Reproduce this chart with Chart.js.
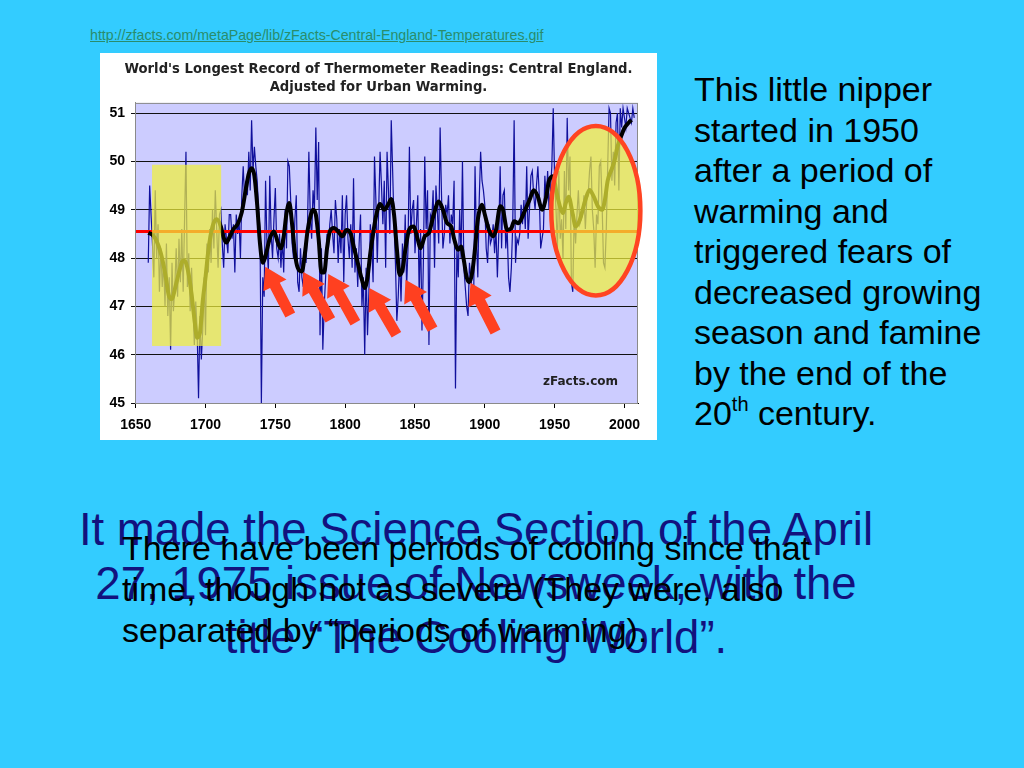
<!DOCTYPE html>
<html>
<head>
<meta charset="utf-8">
<script src="https://cdn.jsdelivr.net/npm/chart.js@4.4.1/dist/chart.umd.min.js"></script>
<style>
  html, body { margin: 0; padding: 0; }
  body { width: 1024px; height: 768px; background: #33ccff; position: relative; overflow: hidden;
         font-family: "Liberation Sans", Arial, sans-serif; }
  #link { position: absolute; left: 90px; top: 27px; font-size: 14.2px; color: #2a8c6c; text-decoration: underline; }
  #box { position: absolute; left: 100px; top: 53px; width: 557px; height: 387px; background: #fff; }
  #note { position: absolute; left: 694px; top: 69px; font-size: 34px; line-height: 40.5px; color: #000; }
  #note sup { font-size: 20px; vertical-align: 14px; line-height: 0; }
  #big { position: absolute; left: 60px; top: 503px; width: 832px; text-align: center;
         font-size: 45.5px; line-height: 54px; color: #12127e; }
  #small { position: absolute; left: 122px; top: 528px; font-size: 34px; line-height: 41px; color: #000; }
</style>
</head>
<body>
<div id="link">http://zfacts.com/metaPage/lib/zFacts-Central-England-Temperatures.gif</div>
<div id="box"><canvas id="myChart" width="557" height="387"></canvas></div>
<div id="note">This little nipper<br>started in 1950<br>after a period of<br>warming and<br>triggered fears of<br>decreased growing<br>season and famine<br>by the end of the<br>20<sup>th</sup> century.</div>
<div id="big">It made the Science Section of the April<br>27, 1975 issue of Newsweek, with the<br>title “The Cooling World”.</div>
<div id="small">There have been periods of cooling since that<br>time, though not as severe (They were, also<br>separated by “periods of warming).</div>

<script>
// annual readings (deg F), one per year starting 1659
const firstYear = 1659;
const annualTemps = [
  47.9, 49.5, 48.9, 48.3, 47.6, 49.4, 48.0, 48.7, 47.3, 48.2, 47.4,            // 1659-1669
  47.9, 47.0, 48.3, 46.8, 47.6, 46.1, 47.9, 46.9, 47.4, 48.2,                  // 1670s
  47.2, 48.4, 47.5, 48.6, 47.3, 48.8, 50.2, 47.4, 48.1, 46.9,                  // 1680s
  47.8, 47.0, 46.2, 47.1, 46.5, 45.1, 46.8, 45.9, 46.5, 47.6,                  // 1690s
  46.4, 48.3, 47.7, 48.6, 47.9, 49.0, 48.2, 49.4, 48.6, 47.8,                  // 1700s
  48.9, 49.0, 48.3, 47.8, 48.7, 48.4, 48.1, 48.9, 48.9, 48.4,                  // 1710s
  48.7, 47.7, 48.9, 48.5, 48.8, 48.0, 49.3, 49.9, 49.2, 49.6,                  // 1720s
  49.3, 50.2, 49.4, 50.85, 49.8, 50.3, 49.9, 49.6, 49.0, 48.6,                 // 1730s
  45.0, 47.6, 47.2, 49.6, 48.3, 47.7, 49.7, 48.5, 48.0, 48.8,                  // 1740s
  49.45, 48.2, 48.0, 48.5, 47.8, 48.4, 47.7, 49.0, 48.2, 50.0,                 // 1750s
  49.9, 49.2, 48.3, 48.0, 48.8, 49.3, 47.5, 47.3, 48.2, 47.6,                  // 1760s
  47.4, 48.3, 47.9, 48.6, 50.2, 48.9, 48.4, 49.4, 49.0, 50.7,                  // 1770s
  49.2, 50.4, 46.4, 48.2, 46.1, 47.0, 47.6, 48.5, 48.2, 48.7,                  // 1780s
  49.0, 48.5, 48.1, 49.2, 48.8, 47.9, 48.6, 48.1, 49.3, 47.5,                  // 1790s
  48.9, 49.3, 48.4, 48.0, 48.7, 47.8, 49.65, 47.7, 48.2, 47.4,                 // 1800s
  48.3, 48.9, 47.0, 47.6, 46.0, 47.8, 46.4, 47.3, 48.7, 48.3,                  // 1810s
  47.5, 50.1, 49.2, 47.9, 49.0, 50.2, 49.5, 48.7, 49.6, 47.8,                  // 1820s
  50.2, 49.4, 48.5, 50.85, 49.8, 48.7, 47.9, 46.7, 47.2, 48.0,                 // 1830s
  47.1, 48.3, 47.7, 48.9, 47.4, 48.2, 50.3, 48.5, 49.0, 49.2,                  // 1840s
  48.1, 48.7, 49.3, 47.2, 48.6, 46.5, 47.9, 50.1, 48.6, 49.4,                  // 1850s
  46.2, 48.9, 48.8, 49.4, 47.8, 49.5, 49.0, 48.3, 50.7, 49.3,                  // 1860s
  48.2, 48.5, 49.1, 48.9, 49.3, 48.3, 48.9, 48.7, 49.6, 45.3,                  // 1870s
  48.2, 47.6, 49.0, 48.0, 50.0, 47.8, 47.4, 47.0, 46.8, 47.9,                  // 1880s
  47.6, 47.3, 47.1, 49.9, 48.4, 47.6, 49.2, 50.2, 49.6, 49.4,                  // 1890s
  49.1, 48.2, 47.9, 48.7, 48.3, 48.4, 48.7, 48.1, 48.6, 47.6,                  // 1900s
  48.5, 49.9, 48.2, 49.3, 49.4, 48.2, 48.6, 47.6, 47.3, 47.8,                  // 1910s
  48.7, 50.85, 47.9, 48.4, 48.3, 48.5, 49.1, 48.7, 49.2, 48.6,                 // 1920s
  49.9, 48.4, 49.0, 49.7, 49.8, 49.3, 49.0, 49.5, 49.9, 49.3,                  // 1930s
  48.2, 48.4, 48.6, 49.7, 49.2, 49.8, 49.0, 49.4, 49.9, 51.1,                  // 1940s
  49.6, 49.0, 48.2, 49.8, 48.4, 48.8, 48.0, 49.8, 48.6, 50.9,                  // 1950s
  49.4, 50.1, 47.5, 47.3, 48.9, 48.3, 48.9, 49.4, 48.7, 48.8,                  // 1960s
  48.9, 49.3, 48.6, 49.2, 49.3, 49.8, 50.1, 49.0, 48.6, 47.8,                  // 1970s
  48.9, 48.7, 49.9, 50.0, 49.1, 47.9, 47.8, 48.6, 49.9, 51.1,                  // 1980s
  51.0, 49.6, 50.2, 49.5, 50.8, 51.0, 49.4, 51.1, 50.7, 51.1,                  // 1990s
  50.9, 50.7, 51.1, 51.0, 50.9, 50.8, 51.1, 50.9                               // 2000-2007
];

// smoothed trend (thick black line)
const smoothYears = [1659, 1662, 1665, 1668, 1671, 1674, 1676, 1678, 1681, 1684, 1686, 1688, 1690, 1692, 1694, 1696, 1698,
  1700, 1702, 1705, 1708, 1711, 1713, 1715, 1717, 1720, 1723, 1726, 1729, 1731, 1733, 1735, 1737, 1739,
  1741, 1743, 1746, 1749, 1752, 1754, 1756, 1758, 1760, 1762, 1764, 1766, 1769, 1771, 1773, 1775, 1777, 1779,
  1781, 1783, 1785, 1787, 1789, 1792, 1795, 1798, 1801, 1804, 1806, 1809, 1812, 1814, 1816, 1818, 1820,
  1822, 1825, 1828, 1831, 1833, 1835, 1837, 1839, 1841, 1843, 1846, 1849, 1852, 1854, 1857, 1860, 1863,
  1867, 1870, 1873, 1876, 1878, 1881, 1883, 1885, 1887, 1889, 1891, 1893, 1895, 1898, 1900, 1903, 1906,
  1908, 1911, 1913, 1916, 1919, 1921, 1924, 1926, 1929, 1932, 1935, 1938, 1941, 1944, 1946, 1949, 1951,
  1954, 1956, 1958, 1960, 1963, 1965, 1968, 1972, 1975, 1978, 1981, 1984, 1986, 1988, 1991, 1993, 1995,
  1998, 2000, 2003, 2005];
const smoothTemps = [48.52, 48.48, 48.35, 48.1, 47.7, 47.2, 47.15, 47.35, 47.7, 47.95, 47.9, 47.65, 47.25, 46.75, 46.35, 46.45, 47.1,
  47.6, 48.15, 48.65, 48.8, 48.65, 48.42, 48.32, 48.42, 48.6, 48.7, 48.95, 49.45, 49.75, 49.86, 49.7, 49.1, 48.3,
  47.9, 48.05, 48.4, 48.55, 48.3, 48.2, 48.45, 48.93, 49.14, 48.7, 48.1, 47.8, 47.72, 48.05, 48.55, 48.85, 49.0, 48.9,
  48.4, 47.7, 47.7, 48.2, 48.55, 48.62, 48.55, 48.45, 48.58, 48.5, 48.25, 47.9, 47.55, 47.38, 47.6, 48.1, 48.5,
  48.85, 49.12, 49.0, 49.12, 49.22, 48.9, 48.2, 47.65, 47.75, 48.15, 48.6, 48.65, 48.38, 48.2, 48.45, 48.52, 48.85,
  49.17, 49.0, 48.72, 48.65, 48.4, 48.17, 48.24, 47.95, 47.6, 47.5, 47.7, 48.2, 48.8, 49.1, 48.9, 48.58, 48.45,
  48.58, 49.07, 49.0, 48.58, 48.62, 48.76, 48.72, 48.8, 49.0, 49.2, 49.4, 49.27, 49.0, 49.27, 49.6, 49.69, 49.41,
  49.05, 48.93, 49.14, 49.27, 48.9, 48.65, 48.79, 49.2, 49.41, 49.27, 49.07, 49.0, 49.2, 49.6, 49.85, 50.03, 50.3,
  50.55, 50.69, 50.8, 50.86];

const meanTemp = 48.55;
const xTicks = [1650, 1700, 1750, 1800, 1850, 1900, 1950, 2000];
const yTicks = [45, 46, 47, 48, 49, 50, 51];

// highlight marks, in data units
const yellowBox = [1661.7, 1711.2, 46.18, 49.93];          // x0, x1, yLow, yHigh
const recentEllipse = [1979.5, 48.98, 31.9, 1.754];        // cx, cy, rx (years), ry (deg)
const coolArrows = [                                        // tipYear, tipTemp, tailYear, tailTemp
  [1742.8, 47.82, 1760.7, 46.82],
  [1770.0, 47.71, 1789.4, 46.72],
  [1787.9, 47.67, 1807.3, 46.66],
  [1817.3, 47.38, 1836.7, 46.41],
  [1843.2, 47.55, 1862.6, 46.53],
  [1889.8, 47.49, 1907.7, 46.47]
];

const overlays = {
  id: 'overlays',
  beforeDraw(chart) {
    const { ctx, chartArea: a } = chart;
    ctx.save();
    ctx.fillStyle = '#ccccff';
    ctx.fillRect(a.left, a.top, a.right - a.left, a.bottom - a.top);
    ctx.restore();
  },
  afterDatasetsDraw(chart) {
    const { ctx, chartArea: a } = chart;
    const xs = chart.scales.x, ys = chart.scales.y;
    ctx.save();
    ctx.strokeStyle = '#8a8a8a';
    ctx.lineWidth = 1;
    ctx.strokeRect(a.left + 0.5, a.top + 0.5, a.right - a.left - 1, a.bottom - a.top);

    // yellow box over the 1690s
    const bx0 = xs.getPixelForValue(yellowBox[0]), bx1 = xs.getPixelForValue(yellowBox[1]);
    const by0 = ys.getPixelForValue(yellowBox[3]), by1 = ys.getPixelForValue(yellowBox[2]);
    ctx.fillStyle = 'rgba(240,240,60,0.72)';
    ctx.fillRect(bx0, by0, bx1 - bx0, by1 - by0);

    // ellipse round the recent years
    const cx = xs.getPixelForValue(recentEllipse[0]), cy = ys.getPixelForValue(recentEllipse[1]);
    const rx = Math.abs(xs.getPixelForValue(recentEllipse[0] + recentEllipse[2]) - cx);
    const ry = Math.abs(ys.getPixelForValue(recentEllipse[1] + recentEllipse[3]) - cy);
    ctx.beginPath();
    ctx.ellipse(cx, cy, rx, ry, 0, 0, Math.PI * 2);
    ctx.fill();
    ctx.lineWidth = 4.5;
    ctx.strokeStyle = '#ff4422';
    ctx.stroke();

    // arrows pointing at the cold spells
    ctx.fillStyle = '#ff4020';
    coolArrows.forEach(ar => {
      const tx = xs.getPixelForValue(ar[0]), ty = ys.getPixelForValue(ar[1]);
      const sx = xs.getPixelForValue(ar[2]), sy = ys.getPixelForValue(ar[3]);
      const len = Math.hypot(tx - sx, ty - sy);
      const ux = (tx - sx) / len, uy = (ty - sy) / len;
      const vx = -uy, vy = ux;
      const head = 21, hw = 13, sw = 5.5;
      const pts = [[0, -sw], [len - head, -sw], [len - head, -hw], [len, 0], [len - head, hw], [len - head, sw], [0, sw]];
      ctx.beginPath();
      pts.forEach((p, i) => {
        const px = sx + ux * p[0] + vx * p[1], py = sy + uy * p[0] + vy * p[1];
        if (i === 0) ctx.moveTo(px, py); else ctx.lineTo(px, py);
      });
      ctx.closePath();
      ctx.fill();
    });

    ctx.fillStyle = '#222';
    ctx.font = 'bold 12px "DejaVu Sans", Verdana, sans-serif';
    ctx.textAlign = 'right';
    ctx.textBaseline = 'middle';
    ctx.fillText('zFacts.com', a.right - 20, a.bottom - 21);
    ctx.restore();
  }
};

const tickFont = { family: '"Liberation Sans", Arial, sans-serif', weight: 'bold', size: 14 };

new Chart(document.getElementById('myChart'), {
  type: 'line',
  data: {
    datasets: [
      {
        label: 'Smoothed',
        data: smoothYears.map((yr, i) => ({ x: yr, y: smoothTemps[i] })),
        borderColor: '#000', borderWidth: 4, pointRadius: 0,
        cubicInterpolationMode: 'monotone', order: 1
      },
      {
        label: 'Average',
        data: [{ x: 1649.5, y: meanTemp }, { x: 2009.7, y: meanTemp }],
        borderColor: '#ff0000', borderWidth: 3, pointRadius: 0, order: 2
      },
      {
        label: 'Annual',
        data: annualTemps.map((t, i) => ({ x: firstYear + i, y: t })),
        borderColor: '#10109c', borderWidth: 1.2, pointRadius: 0, tension: 0, order: 3
      }
    ]
  },
  options: {
    responsive: false,
    animation: false,
    layout: { padding: 0 },
    plugins: {
      legend: { display: false },
      tooltip: { enabled: false },
      title: {
        display: true,
        text: ["World's Longest Record of Thermometer Readings: Central England.", 'Adjusted for Urban Warming.'],
        color: '#222',
        font: { family: '"DejaVu Sans", Verdana, sans-serif', weight: 'bold', size: 13.2, lineHeight: 1.36 },
        padding: { top: 8, bottom: 6 }
      }
    },
    scales: {
      x: {
        type: 'linear', min: 1649.5, max: 2009.7,
        afterBuildTicks: s => { s.ticks = xTicks.map(v => ({ value: v })); },
        afterFit: s => { s.height = 37; },
        ticks: { autoSkip: false, maxRotation: 0, color: '#000', font: tickFont, padding: 9, callback: v => String(v) },
        grid: { drawOnChartArea: false, tickLength: 5, color: '#000' },
        border: { color: '#000' }
      },
      y: {
        min: 45, max: 51.21,
        afterBuildTicks: s => { s.ticks = yTicks.map(v => ({ value: v })); },
        afterFit: s => { s.width = 35; },
        ticks: { autoSkip: false, color: '#000', font: tickFont, padding: 6, callback: v => String(v) },
        grid: { color: '#111', tickLength: 4, lineWidth: 1 },
        border: { color: '#8a8a8a' }
      },
      // empty right-hand axis, only keeps the white margin on the right
      yRight: {
        position: 'right', min: 45, max: 51.21,
        afterBuildTicks: s => { s.ticks = []; },
        afterFit: s => { s.width = 19; },
        ticks: { display: false },
        grid: { display: false, drawTicks: false },
        border: { display: false }
      }
    }
  },
  plugins: [overlays]
});
</script>
</body>
</html>
